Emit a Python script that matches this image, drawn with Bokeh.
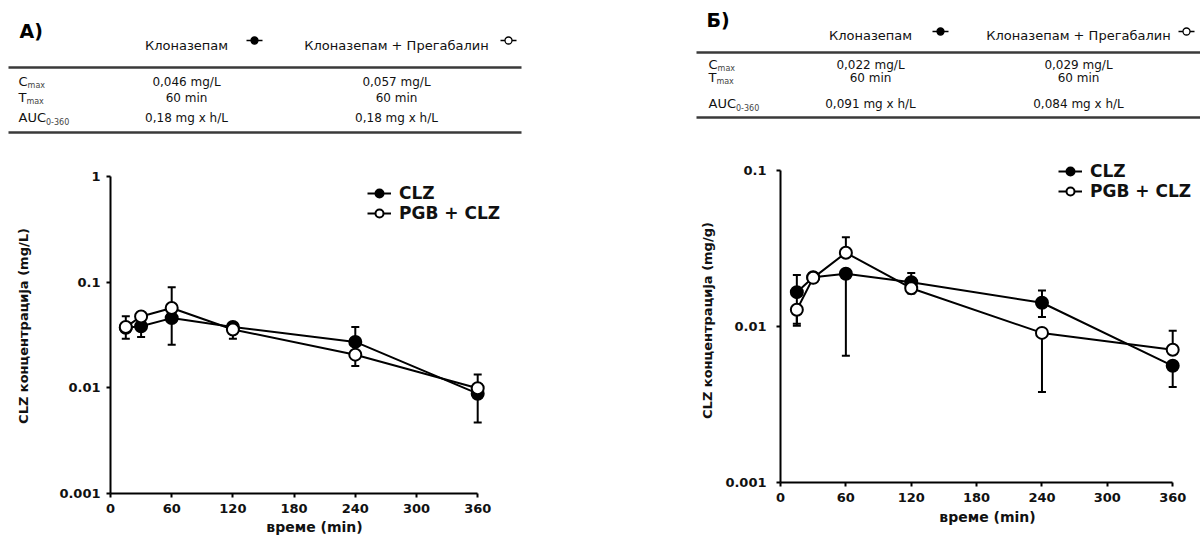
import math
from bokeh.plotting import figure
from bokeh.layouts import column, row
from bokeh.models import (Range1d, FixedTicker, CustomJSTickFormatter, Legend, LegendItem,
                          Whisker, TeeHead, ColumnDataSource)
from bokeh.core.properties import value
from bokeh.embed import file_html
from bokeh.resources import INLINE

# ---------------- data ----------------
times = [15, 30, 60, 120, 240, 360]
x_ticks = [0, 60, 120, 180, 240, 300, 360]

# Panel A (mg/L)
a_clz = [0.037, 0.0382, 0.0457, 0.0376, 0.0272, 0.0088]
a_clz_lo = [0.037, 0.0303, 0.0256, 0.0376, 0.0272, 0.0047]
a_clz_hi = [0.037, 0.0382, 0.0457, 0.041, 0.0376, 0.0088]
a_pgb = [0.0376, 0.0474, 0.0569, 0.0357, 0.0206, 0.0099]
a_pgb_lo = [0.0292, 0.0474, 0.0569, 0.0292, 0.0161, 0.0099]
a_pgb_hi = [0.0475, 0.0474, 0.0897, 0.0357, 0.0206, 0.0134]

# Panel B (mg/g)
b_clz = [0.0166, 0.0207, 0.0218, 0.0192, 0.0142, 0.0056]
b_clz_lo = [0.0104, 0.0207, 0.0065, 0.0192, 0.0115, 0.0041]
b_clz_hi = [0.0214, 0.0207, 0.0218, 0.022, 0.017, 0.0056]
b_pgb = [0.0128, 0.0205, 0.0297, 0.0176, 0.0091, 0.0071]
b_pgb_lo = [0.0101, 0.0205, 0.0297, 0.0163, 0.0038, 0.0071]
b_pgb_hi = [0.0128, 0.0205, 0.0374, 0.0176, 0.0091, 0.0094]

legend_labels = ["CLZ", "PGB + CLZ"]
a_yticks = [0.001, 0.01, 0.1, 1]
b_yticks = [0.001, 0.01, 0.1]

# tables
row_main = ["C", "T", "AUC"]
row_sub = ["max", "max", "0-360"]
col_headers = ["Клоназепам", "Клоназепам + Прегабалин"]
a_tab_clz = ["0,046 mg/L", "60 min", "0,18 mg x h/L"]
a_tab_pgb = ["0,057 mg/L", "60 min", "0,18 mg x h/L"]
b_tab_clz = ["0,022 mg/L", "60 min", "0,091 mg x h/L"]
b_tab_pgb = ["0,029 mg/L", "60 min", "0,084 mg x h/L"]

FONT = value("DejaVu Sans")

# ---------------- top (tables) ----------------
TW, TH = 1200, 150
top = figure(width=TW, height=TH, x_range=Range1d(0, TW), y_range=Range1d(TH, 0),
             toolbar_location=None, output_backend="svg", min_border=0,
             x_axis_type=None, y_axis_type=None, outline_line_color=None)
top.xgrid.visible = False
top.ygrid.visible = False


def draw_table(p, title, tx, ty, hx1, hx2, hy, icon_x1, icon_x2, icon_y,
               rule_x0, rule_x1, rule_top, rule_bot, lab_x, row_ys, v1, v2):
    p.text(x=[tx], y=[ty], text=[title], text_font=FONT, text_font_style="bold",
           text_font_size="19px", text_align="left", text_baseline="middle", text_color="black")
    p.text(x=[hx1, hx2], y=[hy, hy], text=col_headers, text_font=FONT, text_font_size="13px",
           text_align="center", text_baseline="middle", text_color="#111111")
    for ix, fill in ((icon_x1, "black"), (icon_x2, "white")):
        p.segment(x0=[ix - 8], y0=[icon_y], x1=[ix + 8], y1=[icon_y], line_color="black", line_width=1.5)
        p.scatter(x=[ix], y=[icon_y], size=7, fill_color=fill, line_color="black", line_width=1.3)
    p.segment(x0=[rule_x0, rule_x0], y0=[rule_top, rule_bot], x1=[rule_x1, rule_x1],
              y1=[rule_top, rule_bot], line_color="#3a3a3a", line_width=2.5)
    p.text(x=[lab_x] * 3, y=row_ys, text=row_main, text_font=FONT, text_font_size="13px",
           text_align="left", text_baseline="middle", text_color="#111111")
    sub_off = [9.1, 7.9, 27.5]
    p.text(x=[lab_x + o for o in sub_off], y=[yy + 4 for yy in row_ys], text=row_sub,
           text_font=FONT, text_font_size="8px", text_align="left", text_baseline="middle",
           text_color="#444444")
    p.text(x=[hx1] * 3, y=row_ys, text=v1, text_font=FONT, text_font_size="12px",
           text_align="center", text_baseline="middle", text_color="#111111")
    p.text(x=[hx2] * 3, y=row_ys, text=v2, text_font=FONT, text_font_size="12px",
           text_align="center", text_baseline="middle", text_color="#111111")


draw_table(top, "A)", 19, 30, 186, 396, 45, 254, 508, 40, 8, 521, 67, 132, 18,
           [81, 97, 117], a_tab_clz, a_tab_pgb)
draw_table(top, "Б)", 706, 19, 870, 1078, 35, 940, 1186, 31, 696, 1200, 52, 117, 708,
           [64, 77, 103], b_tab_clz, b_tab_pgb)


# ---------------- plots ----------------
def make_plot(y_lo, y_hi, yticks, ylabel, clz, clz_lo, clz_hi, pgb, pgb_lo, pgb_hi,
              x_end, fw, fh, top_extra_px, bl, br, bt, bb, tick_out, lab_standoff,
              ylab_standoff, xlab_standoff, leg_loc):
    decades = math.log10(y_hi) - math.log10(y_lo)
    px_per_dec = (fh - top_extra_px) / decades
    y_top = 10 ** (math.log10(y_hi) + top_extra_px / px_per_dec)
    p = figure(frame_width=fw, frame_height=fh, y_axis_type="log",
               x_range=Range1d(0, x_end), y_range=Range1d(y_lo, y_top),
               toolbar_location=None, output_backend="svg",
               min_border_left=bl, min_border_right=br, min_border_top=bt, min_border_bottom=bb,
               outline_line_color=None)
    p.xgrid.visible = False
    p.ygrid.visible = False
    p.xaxis.ticker = FixedTicker(ticks=x_ticks)
    p.xaxis.bounds = (0, 360)
    p.yaxis.ticker = FixedTicker(ticks=yticks)
    p.yaxis.formatter = CustomJSTickFormatter(code="return tick.toString();")
    p.yaxis.bounds = (y_lo, y_hi)
    for ax in (p.xaxis[0], p.yaxis[0]):
        ax.axis_line_width = 2
        ax.axis_line_color = "black"
        ax.major_tick_line_width = 2
        ax.major_tick_line_color = "black"
        ax.major_tick_in = 0
        ax.major_tick_out = tick_out
        ax.minor_tick_line_color = None
        ax.major_label_text_font = "DejaVu Sans"
        ax.major_label_text_font_style = "bold"
        ax.major_label_text_font_size = "13px"
        ax.major_label_text_color = "#111111"
        ax.major_label_standoff = lab_standoff
        ax.axis_label_text_font = "DejaVu Sans"
        ax.axis_label_text_font_style = "bold"
        ax.axis_label_text_color = "#111111"
    p.xaxis.axis_label = "време (min)"
    p.xaxis.axis_label_text_font_size = "14px"
    p.xaxis.axis_label_standoff = xlab_standoff
    p.yaxis.axis_label = ylabel
    p.yaxis.axis_label_text_font_size = "13px"
    p.yaxis.axis_label_standoff = ylab_standoff

    items = []
    for vals, lo, hi, fill, lab in ((clz, clz_lo, clz_hi, "black", legend_labels[0]),
                                    (pgb, pgb_lo, pgb_hi, "white", legend_labels[1])):
        src = ColumnDataSource(dict(x=times, y=vals, lo=lo, hi=hi))
        w = Whisker(source=src, base="x", lower="lo", upper="hi", line_width=2,
                    line_color="black",
                    upper_head=TeeHead(size=8, line_width=2, line_color="black"),
                    lower_head=TeeHead(size=8, line_width=2, line_color="black"))
        p.add_layout(w)
        lr = p.line("x", "y", source=src, line_color="black", line_width=2)
        sr = p.scatter("x", "y", source=src, size=12, fill_color=fill, line_color="black",
                       line_width=2)
        items.append(LegendItem(label=lab, renderers=[lr, sr]))
    leg = Legend(items=items, location=leg_loc, padding=0, margin=0, spacing=0,
                 glyph_width=24, glyph_height=20, label_height=20, label_standoff=8,
                 label_text_font="DejaVu Sans", label_text_font_style="bold",
                 label_text_font_size="17px", label_text_color="#111111",
                 border_line_color=None, background_fill_alpha=0)
    p.add_layout(leg)
    return p


pa = make_plot(0.001, 1, a_yticks, "CLZ концентрација (mg/L)",
               a_clz, a_clz_lo, a_clz_hi, a_pgb, a_pgb_lo, a_pgb_hi,
               x_end=400, fw=408, fh=335, top_extra_px=18, bl=110, br=82, bt=8, bb=45,
               tick_out=4, lab_standoff=6, ylab_standoff=25, xlab_standoff=3,
               leg_loc=(257, 270))
pb = make_plot(0.001, 0.1, b_yticks, "CLZ концентрација (mg/g)",
               b_clz, b_clz_lo, b_clz_hi, b_pgb, b_pgb_lo, b_pgb_hi,
               x_end=380, fw=414, fh=324, top_extra_px=12, bl=180, br=6, bt=8, bb=45,
               tick_out=4, lab_standoff=6, ylab_standoff=7, xlab_standoff=4,
               leg_loc=(278, 281))
pb.yaxis.major_label_standoff = 10

layout = column(top, row(pa, pb, spacing=0), spacing=0)
open("out.html", "w").write(file_html(layout, INLINE))
